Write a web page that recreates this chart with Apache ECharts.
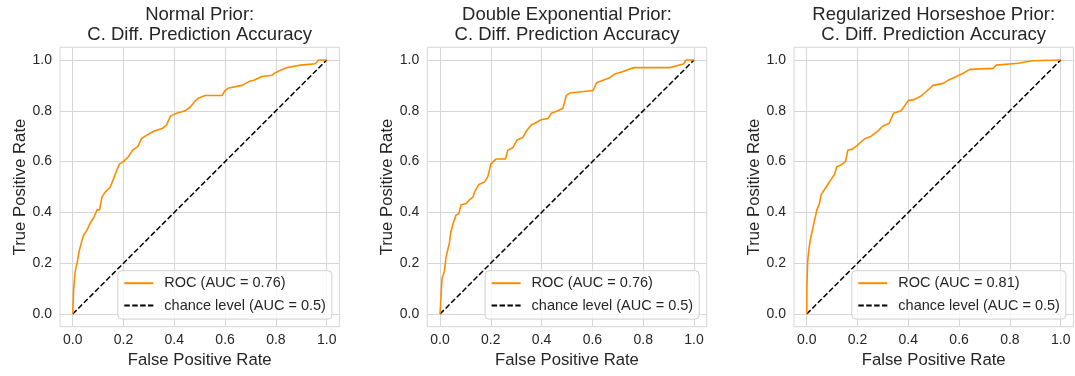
<!DOCTYPE html>
<html>
<head>
<meta charset="utf-8">
<script src="https://cdn.jsdelivr.net/npm/echarts@6/dist/echarts.min.js"></script>
<style>
html,body{margin:0;padding:0;background:#ffffff;}
#chart{width:1075px;height:376px;}
</style>
</head>
<body>
<div id="chart"></div>
<script>
// ---- data ----
const panelTitles = [
  'Normal Prior:\nC. Diff. Prediction Accuracy',
  'Double Exponential Prior:\nC. Diff. Prediction Accuracy',
  'Regularized Horseshoe Prior:\nC. Diff. Prediction Accuracy'
];
const rocNames = ['ROC (AUC = 0.76)', 'ROC (AUC = 0.76)', 'ROC (AUC = 0.81)'];
const chanceName = 'chance level (AUC = 0.5)';
const tickValues = [0, 0.2, 0.4, 0.6, 0.8, 1.0];

const normalFpr = [0, 0.004, 0.01, 0.017, 0.026, 0.034, 0.043, 0.056, 0.07, 0.083, 0.096, 0.106, 0.115, 0.128, 0.148, 0.16, 0.175, 0.184, 0.2, 0.22, 0.236, 0.257, 0.27, 0.293, 0.32, 0.352, 0.37, 0.385, 0.41, 0.443, 0.463, 0.483, 0.496, 0.522, 0.588, 0.6, 0.614, 0.667, 0.693, 0.713, 0.745, 0.785, 0.798, 0.818, 0.844, 0.897, 0.955, 0.968, 1.0];
const normalTpr = [0, 0.10, 0.17, 0.20, 0.25, 0.28, 0.31, 0.33, 0.36, 0.38, 0.41, 0.41, 0.46, 0.48, 0.50, 0.53, 0.57, 0.59, 0.60, 0.62, 0.645, 0.66, 0.69, 0.705, 0.72, 0.73, 0.745, 0.78, 0.79, 0.80, 0.815, 0.84, 0.85, 0.86, 0.86, 0.88, 0.89, 0.90, 0.915, 0.92, 0.935, 0.94, 0.95, 0.96, 0.97, 0.98, 0.985, 1.0, 1.0];

const dexpFpr = [0, 0.004, 0.008, 0.017, 0.024, 0.03, 0.037, 0.043, 0.053, 0.063, 0.074, 0.083, 0.103, 0.116, 0.13, 0.136, 0.153, 0.175, 0.188, 0.2, 0.22, 0.258, 0.267, 0.287, 0.303, 0.326, 0.34, 0.36, 0.372, 0.398, 0.425, 0.438, 0.464, 0.484, 0.497, 0.51, 0.557, 0.603, 0.616, 0.642, 0.668, 0.688, 0.721, 0.747, 0.766, 0.905, 0.958, 0.97, 1.0];
const dexpTpr = [0, 0.07, 0.14, 0.167, 0.226, 0.25, 0.28, 0.325, 0.36, 0.39, 0.395, 0.43, 0.435, 0.45, 0.46, 0.48, 0.51, 0.52, 0.54, 0.59, 0.61, 0.61, 0.645, 0.655, 0.685, 0.695, 0.72, 0.745, 0.75, 0.765, 0.77, 0.79, 0.80, 0.81, 0.86, 0.87, 0.875, 0.88, 0.91, 0.92, 0.93, 0.945, 0.955, 0.965, 0.97, 0.97, 0.984, 1.0, 1.0];

const hsFpr = [0, 0.001, 0.004, 0.008, 0.013, 0.017, 0.024, 0.03, 0.04, 0.05, 0.057, 0.07, 0.083, 0.096, 0.11, 0.118, 0.135, 0.153, 0.162, 0.182, 0.2, 0.228, 0.254, 0.28, 0.3, 0.324, 0.342, 0.372, 0.4, 0.425, 0.45, 0.47, 0.497, 0.537, 0.557, 0.59, 0.616, 0.642, 0.734, 0.747, 0.833, 0.886, 1.0];
const hsTpr = [0, 0.12, 0.21, 0.25, 0.285, 0.305, 0.337, 0.344, 0.41, 0.435, 0.47, 0.49, 0.51, 0.53, 0.55, 0.58, 0.587, 0.60, 0.645, 0.65, 0.665, 0.69, 0.70, 0.72, 0.74, 0.75, 0.79, 0.80, 0.84, 0.845, 0.858, 0.875, 0.90, 0.908, 0.92, 0.935, 0.948, 0.963, 0.967, 0.98, 0.987, 0.997, 1.0];

const chanceFpr = [0, 1];
const chanceTpr = [0, 1];

// ---- build chart ----
const fprs = [normalFpr, dexpFpr, hsFpr];
const tprs = [normalTpr, dexpTpr, hsTpr];
const zip = (a, b) => a.map((v, i) => [v, b[i]]);

const FONT = '"Liberation Sans", Arial, sans-serif';
const TXT = '#262626';
const GRIDC = '#d6d6d6';
const gridLefts = [60, 427.3, 794];
const gridTop = 47.3, gridSize = 279.4;

const option = {
  animation: false,
  backgroundColor: '#ffffff',
  textStyle: { fontFamily: FONT },
  title: [], grid: [], xAxis: [], yAxis: [], legend: [], series: []
};

for (let p = 0; p < 3; p++) {
  const gl = gridLefts[p];
  option.title.push({
    text: panelTitles[p],
    left: gl + gridSize / 2,
    top: 5,
    textAlign: 'center',
    padding: 0,
    textStyle: { fontFamily: FONT, fontSize: 18.5, fontWeight: 'normal', color: TXT, lineHeight: 20 }
  });
  option.grid.push({
    left: gl, top: gridTop, width: gridSize, height: gridSize,
    show: true, borderColor: GRIDC, borderWidth: 1, backgroundColor: '#ffffff'
  });
  option.xAxis.push({
    type: 'value', gridIndex: p, min: -0.05, max: 1.05,
    name: 'False Positive Rate', nameLocation: 'middle', nameGap: 23,
    nameTextStyle: { fontFamily: FONT, fontSize: 16.7, color: TXT },
    axisLine: { show: false },
    axisTick: { show: false, customValues: tickValues },
    axisLabel: { customValues: tickValues, margin: 6, fontFamily: FONT, fontSize: 14, color: TXT,
                 formatter: v => v.toFixed(1) },
    splitLine: { show: true, lineStyle: { color: GRIDC, width: 1 } }
  });
  option.yAxis.push({
    type: 'value', gridIndex: p, min: -0.05, max: 1.05,
    name: 'True Positive Rate', nameLocation: 'middle', nameGap: 31,
    nameTextStyle: { fontFamily: FONT, fontSize: 16.7, color: TXT },
    axisLine: { show: false },
    axisTick: { show: false, customValues: tickValues },
    axisLabel: { customValues: tickValues, margin: 8, fontFamily: FONT, fontSize: 14, color: TXT,
                 formatter: v => v.toFixed(1) },
    splitLine: { show: true, lineStyle: { color: GRIDC, width: 1 } }
  });
  option.legend.push({
    data: [rocNames[p], chanceName],
    orient: 'vertical',
    right: 1075 - (gl + gridSize - 7.5),
    bottom: 376 - (gridTop + gridSize - 7.6),
    itemWidth: 29, itemHeight: 14, itemGap: 7.4,
    padding: [5, 6, 6, 5.5],
    backgroundColor: 'rgba(255,255,255,0.8)',
    borderColor: '#d0d0d0', borderWidth: 1, borderRadius: 4,
    selectedMode: false,
    itemStyle: { opacity: 0, color: 'rgba(0,0,0,0)', borderWidth: 0 },
    textStyle: { fontFamily: FONT, fontSize: 14.5, color: TXT, padding: [0, 0, 0, 6] }
  });
  option.series.push({
    type: 'line', name: rocNames[p], xAxisIndex: p, yAxisIndex: p,
    data: zip(fprs[p], tprs[p]),
    symbol: 'none', showSymbol: false, smooth: false, clip: true, z: 3,
    lineStyle: { color: '#ff8c00', width: 1.6 },
    itemStyle: { color: '#ff8c00' }
  });
  option.series.push({
    type: 'line', name: chanceName, xAxisIndex: p, yAxisIndex: p,
    data: zip(chanceFpr, chanceTpr),
    symbol: 'none', showSymbol: false, clip: true, z: 2,
    lineStyle: { color: '#000000', width: 1.5, type: [5.5, 2.4] },
    itemStyle: { color: '#000000' }
  });
}

const chart = echarts.init(document.getElementById('chart'), null, { renderer: 'canvas' });
chart.setOption(option);
</script>
</body>
</html>
